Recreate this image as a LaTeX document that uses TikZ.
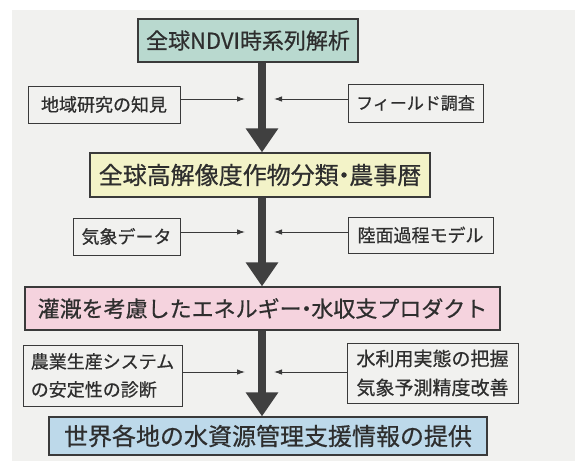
\documentclass[tikz,border=0pt]{standalone}
\usepackage{fontspec}
\newfontfamily\jp[FakeBold=0.6]{Noto Sans CJK JP}
\usetikzlibrary{arrows.meta}
\definecolor{bggray}{HTML}{F1F1EF}
\definecolor{edgec}{HTML}{3A3A3A}
\definecolor{txtc}{HTML}{2E2E2E}
\definecolor{tealc}{HTML}{B9D9CF}
\definecolor{yelc}{HTML}{F3F3C8}
\definecolor{pinkc}{HTML}{F5D3DE}
\definecolor{bluec}{HTML}{BDD9EA}
\definecolor{arrc}{HTML}{404040}
\newcommand{\nakaguro}{\hspace{-0.28em}・\hspace{-0.28em}}
\tikzset{
  mainbox/.style={draw=edgec, line width=1.2pt, inner sep=0pt, text=txtc,
    font=\jp\fontsize{22}{26}\selectfont},
  sidebox/.style={draw=edgec, line width=1pt, inner sep=0pt, text=txtc, fill=bggray,
    font=\jp\fontsize{18}{28}\selectfont},
  bigarrow/.style={draw=arrc, line width=8pt, -{Triangle[width=31pt,length=24pt]}, color=arrc},
  sidearrow/.style={draw=edgec, line width=0.9pt, -{Latex[length=8pt,width=5.5pt]}},
}
\begin{document}
\begin{tikzpicture}[x=1pt,y=-1pt]
\useasboundingbox (0,0) rectangle (575,461);
\fill[white] (0,0) rectangle (575,461);
\fill[bggray] (12,10) rectangle (575,461);

\node[mainbox, fill=tealc, minimum width=220pt, minimum height=43pt] (b1) at (248,40.5) {全球NDVI時系列解析};
\node[mainbox, fill=yelc, minimum width=340pt, minimum height=44pt, font=\jp\fontsize{24}{28}\selectfont] (b2) at (260,175) {全球高解像度作物分類\nakaguro 農事暦};
\node[mainbox, fill=pinkc, minimum width=475pt, minimum height=43pt] (b3) at (262.5,308.5) {灌漑を考慮したエネルギー\nakaguro 水収支プロダクト};
\node[mainbox, fill=bluec, minimum width=438pt, minimum height=38pt, font=\jp\fontsize{24}{28}\selectfont] (b4) at (268,436) {世界各地の水資源管理支援情報の提供};

\node[sidebox, minimum width=152pt, minimum height=37pt] (l1) at (104,104.5) {地域研究の知見};
\node[sidebox, minimum width=135pt, minimum height=38pt, font=\jp\fontsize{17}{28}\selectfont] (r1) at (415.5,103) {フィールド調査};
\node[sidebox, minimum width=107pt, minimum height=37pt] (l2) at (126.5,236.5) {気象データ};
\node[sidebox, minimum width=145pt, minimum height=36pt] (r2) at (420.5,235) {陸面過程モデル};
\node[sidebox, minimum width=159pt, minimum height=61pt, align=left] (l3) at (102.5,375.5) {農業生産システム\\の安定性の診断};
\node[sidebox, minimum width=171pt, minimum height=60pt, align=left, font=\jp\fontsize{19}{29}\selectfont] (r3) at (432.5,373) {水利用実態の把握\\気象予測精度改善};

\coordinate (ax) at (262,0);
\draw[bigarrow] (b1.south -| ax) -- (b2.north -| ax);
\draw[bigarrow] (b2.south -| ax) -- (b3.north -| ax);
\draw[bigarrow] (b3.south -| ax) -- (b4.north -| ax);

\coordinate (a1l) at (245,99);
\coordinate (a1r) at (274,99);
\coordinate (a2l) at (245,232);
\coordinate (a2r) at (274,232);
\coordinate (a3l) at (245,372);
\coordinate (a3r) at (274,372);
\draw[sidearrow] (l1.east |- a1l) -- (a1l);
\draw[sidearrow] (r1.west |- a1r) -- (a1r);
\draw[sidearrow] (l2.east |- a2l) -- (a2l);
\draw[sidearrow] (r2.west |- a2r) -- (a2r);
\draw[sidearrow] (l3.east |- a3l) -- (a3l);
\draw[sidearrow] (r3.west |- a3r) -- (a3r);
\end{tikzpicture}
\end{document}
